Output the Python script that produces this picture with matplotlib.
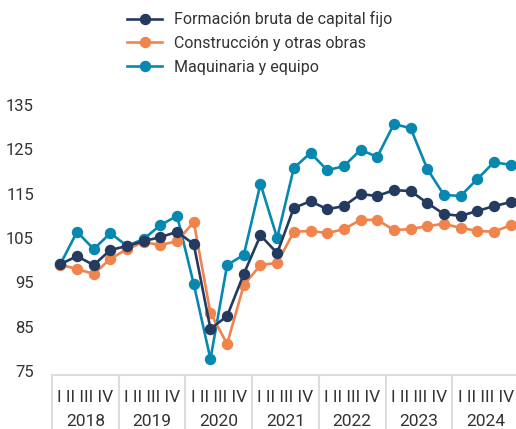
import matplotlib.pyplot as plt

years = ['2018', '2019', '2020', '2021', '2022', '2023', '2024']
quarters = 'I II III IV'

fbkf = [99.1, 100.9, 98.9, 102.3, 103.2, 104.3, 105.2, 106.4,
        103.6, 84.5, 87.4, 96.9, 105.6, 101.6, 111.8, 113.3,
        111.5, 112.2, 114.9, 114.5, 115.8, 115.6, 112.9, 110.4,
        110.0, 111.1, 112.2, 113.1]
construccion = [99.0, 98.0, 96.9, 100.3, 102.5, 104.1, 103.4, 104.3,
                108.6, 88.1, 81.1, 94.4, 98.9, 99.4, 106.4, 106.6,
                106.1, 107.0, 109.1, 109.1, 106.8, 107.0, 107.7, 108.2,
                107.3, 106.6, 106.4, 107.9]
maquinaria = [99.1, 106.4, 102.5, 106.1, 103.2, 104.8, 107.9, 110.0,
              94.6, 77.7, 98.9, 101.2, 117.2, 105.0, 120.8, 124.2,
              120.3, 121.2, 124.9, 123.3, 130.7, 129.8, 120.6, 114.7,
              114.5, 118.3, 122.1, 121.5]

plt.rcParams['font.family'] = ['Roboto', 'DejaVu Sans']
txt = '#333333'

fig = plt.figure(figsize=(5.16, 4.29), dpi=100)
ax = fig.add_axes([0.1008, 0.1259, 0.905, 0.6396])

x = range(len(fbkf))
ax.plot(x, fbkf, color='#243a5e', lw=1.9, marker='o', ms=7.2, label='Formación bruta de capital fijo', zorder=3)
ax.plot(x, construccion, color='#f0844c', lw=1.9, marker='o', ms=7.2, label='Construcción y otras obras', zorder=2)
ax.plot(x, maquinaria, color='#0888b0', lw=1.9, marker='o', ms=7.2, label='Maquinaria y equipo', zorder=1)

ax.set_xlim(-0.5, 27.5)
ax.set_ylim(74.1, 136)
ax.set_yticks([75, 85, 95, 105, 115, 125, 135])
ax.tick_params(axis='y', length=0, pad=13, labelsize=12, labelcolor=txt)

# year separators as long major ticks, labels as minor ticks
ax.set_xticks([i * 4 - 0.5 for i in range(len(years) + 1)])
ax.set_xticklabels([])
ax.tick_params(axis='x', which='major', length=40, width=1.5, color='#dcdcdc')
ax.set_xticks([i * 4 + 1.5 for i in range(len(years))], minor=True)
ax.set_xticklabels([quarters + '\n' + y for y in years], minor=True, fontsize=12.5, color=txt, linespacing=1.75)
ax.tick_params(axis='x', which='minor', length=0, pad=11)

for s in ['top', 'right', 'left']:
    ax.spines[s].set_visible(False)
ax.spines['bottom'].set_color('#dcdcdc')
ax.spines['bottom'].set_linewidth(1.5)

leg = fig.legend(loc='upper left', bbox_to_anchor=(0.225, 1.0), frameon=False, fontsize=11.5,
                 handlelength=2.2, labelspacing=0.55, handletextpad=0.7, borderaxespad=0.3)
for t in leg.get_texts():
    t.set_color(txt)

fig.savefig('out.png', dpi=100)
